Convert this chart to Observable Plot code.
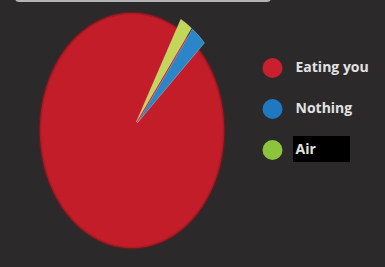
<!DOCTYPE html>
<html>
<head>
<meta charset="utf-8">
<script src="https://cdn.jsdelivr.net/npm/d3@7"></script>
<script src="https://cdn.jsdelivr.net/npm/@observablehq/plot@0.6"></script>
<style>
  html, body { margin: 0; padding: 0; background: #2b292a; }
  #wrap { position: relative; width: 385px; height: 267px; overflow: hidden; background: #2b292a; }
  #wrap svg { position: absolute; left: 0; top: 0; }
  #topline { position: absolute; left: 15px; top: -10px; width: 252px; height: 10px; border: 2px solid #b4b4b4; border-top: none; border-radius: 0 0 4px 4px; }
</style>
</head>
<body>
<div id="wrap"><div id="topline"></div></div>
<script>
// ---- data ----
const categories = ["Eating you", "Nothing", "Air"];
const values = [95, 2.8, 2.2];
const sliceColors = ["#c21d29", "#2a86c8", "#c2d65a"];
const legendColors = ["#c8202c", "#1f79c2", "#8cc43c"];
const startAngleDeg = 29;
const explode = [0, 0.09, 0.09];

// ---- build pie polygons ----
const a0 = startAngleDeg * Math.PI / 180;
const arcs = d3.pie().sort(null).startAngle(a0).endAngle(a0 - 2 * Math.PI)(values);
const pts = [];
const rim = [];
arcs.forEach((arc, i) => {
  const mid = (arc.startAngle + arc.endAngle) / 2;
  const ox = explode[i] * Math.sin(mid), oy = explode[i] * Math.cos(mid);
  const cat = categories[i];
  pts.push({cat, x: ox, y: oy});
  const n = Math.max(4, Math.ceil(Math.abs(arc.endAngle - arc.startAngle) * 60));
  for (let k = 0; k <= n; k++) {
    const t = arc.startAngle + (arc.endAngle - arc.startAngle) * k / n;
    pts.push({cat, x: ox + Math.sin(t), y: oy + Math.cos(t)});
    rim.push({cat: "base", x: Math.sin(t), y: Math.cos(t)});
  }
  pts.push({cat, x: ox, y: oy});
});

const wrap = document.getElementById("wrap");

const pie = Plot.plot({
  width: 385, height: 267,
  margin: 0,
  style: {background: "transparent", overflow: "visible"},
  x: {domain: [-1, 1], range: [40, 223], axis: null},
  y: {domain: [-1, 1], range: [247, 13], axis: null},
  color: {domain: categories, range: sliceColors},
  marks: [
    Plot.line(rim, {x: "x", y: "y", stroke: "#7e151b", strokeWidth: 4, strokeOpacity: 0.55}),
    Plot.line(rim, {x: "x", y: "y", fill: sliceColors[0], stroke: "#a81a24", strokeWidth: 1.5}),
    Plot.line(pts.filter(d => d.cat !== categories[0]), {x: "x", y: "y", z: "cat", fill: "cat", stroke: "#eef2d8", strokeWidth: 0.6, strokeOpacity: 0.5})
  ]
});
wrap.appendChild(pie);

const legend = Plot.plot({
  width: 385, height: 267,
  margin: 0,
  style: {background: "transparent", overflow: "visible"},
  x: {domain: [0, 100], range: [272, 372], axis: null},
  y: {type: "band", domain: categories, range: [46, 170], padding: 0, axis: null},
  color: {domain: categories, range: legendColors},
  marks: [
    Plot.barX(["Air"], {y: d => d, x1: 21, x2: 78, fill: "#000", insetTop: 7, insetBottom: 8}),
    Plot.dot(categories, {x: 0, y: d => d, r: 10, fill: d => d}),
    Plot.text(categories, {x: 0, y: d => d, dx: 23, text: d => d, textAnchor: "start", fill: "#e2e2e2", fontWeight: "bold", fontSize: 14, fontFamily: "Open Sans, sans-serif"})
  ]
});
wrap.appendChild(legend);
</script>
</body>
</html>
